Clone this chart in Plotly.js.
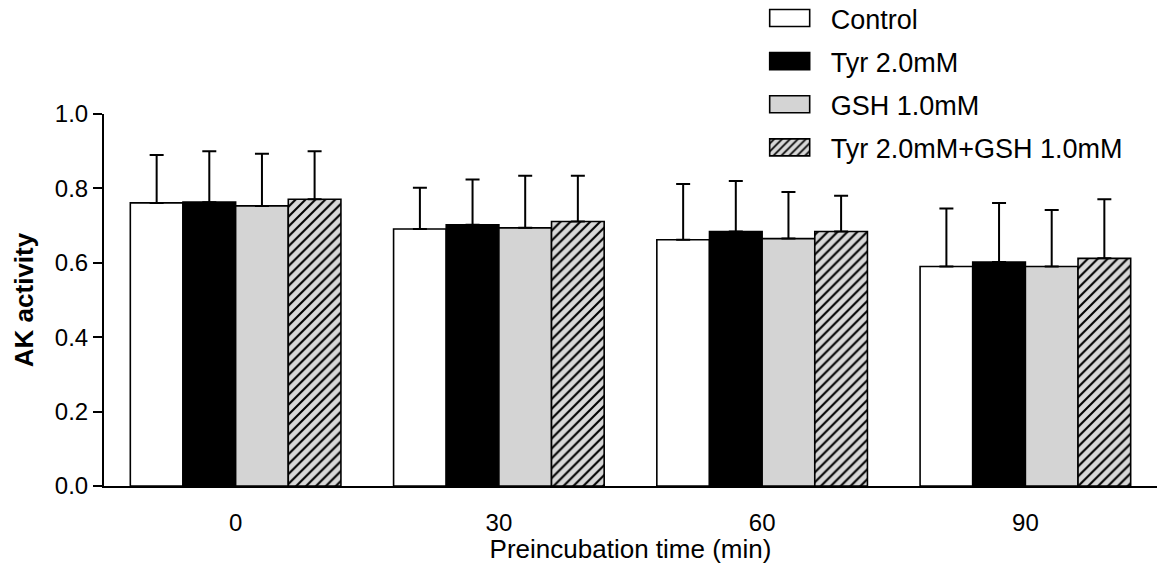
<!DOCTYPE html>
<html>
<head>
<meta charset="utf-8">
<script src="https://cdn.plot.ly/plotly-3.0.1.min.js"></script>
<style>html,body{margin:0;padding:0;background:#fff;}#chart{width:1168px;height:564px;}</style>
</head>
<body>
<div id="chart"></div>
<script>
const categories = ['0', '30', '60', '90'];
const seriesNames = ['Control', 'Tyr 2.0mM', 'GSH 1.0mM', 'Tyr 2.0mM+GSH 1.0mM'];
const controlMean = [0.761, 0.691, 0.662, 0.590];
const controlErr  = [0.129, 0.111, 0.150, 0.156];
const tyrMean = [0.763, 0.702, 0.684, 0.602];
const tyrErr  = [0.137, 0.122, 0.136, 0.159];
const gshMean = [0.753, 0.694, 0.665, 0.590];
const gshErr  = [0.140, 0.140, 0.125, 0.152];
const comboMean = [0.771, 0.711, 0.684, 0.612];
const comboErr  = [0.129, 0.123, 0.096, 0.159];
const yTickVals = [0, 0.2, 0.4, 0.6, 0.8, 1.0];
const yTickText = ['0.0', '0.2', '0.4', '0.6', '0.8', '1.0'];

const FONT = 'Arial, "Liberation Sans", sans-serif';
const means = [controlMean, tyrMean, gshMean, comboMean];
const errs = [controlErr, tyrErr, gshErr, comboErr];
const fills = ['#ffffff', '#000000', '#d4d4d4', '#e2e2e2'];

const traces = seriesNames.map((name, i) => {
  const marker = {color: fills[i], line: {color: '#000', width: 1.6}};
  if (i === 3) {
    marker.pattern = {shape: '/', fgcolor: '#000', bgcolor: '#d8d8d8', size: 7, solidity: 0.3, fillmode: 'replace'};
  }
  return {
    type: 'bar', name: name, x: categories, y: means[i],
    legendgroup: 'g' + i,
    marker: marker,
    error_y: {type: 'data', array: errs[i], arrayminus: errs[i].map(() => 0), symmetric: false,
              color: '#000', thickness: 2, width: 7},
    hoverinfo: 'none'
  };
});

const layout = {
  width: 1168, height: 564,
  margin: {l: 104, r: 11, t: 114, b: 78, autoexpand: false},
  paper_bgcolor: '#fff', plot_bgcolor: '#fff',
  barmode: 'group', bargap: 0.2, bargroupgap: 0,
  font: {family: FONT, color: '#000'},
  showlegend: true,
  legend: {
    x: 0.641, y: 1.3226, xref: 'container', yref: 'paper', xanchor: 'left', yanchor: 'top',
    font: {family: FONT, size: 27, color: '#000'},
    tracegroupgap: 5, itemwidth: 72, bgcolor: 'rgba(0,0,0,0)', traceorder: 'grouped'
  },
  xaxis: {
    type: 'category', range: [-0.5, 3.5],
    showline: true, linecolor: '#000', linewidth: 2,
    ticks: '', showgrid: false, zeroline: false,
    tickfont: {family: FONT, size: 24, color: '#000'},
    ticklabelstandoff: 14,
    title: {text: 'Preincubation time (min)', font: {family: FONT, size: 26, color: '#000'}, standoff: 8}
  },
  yaxis: {
    range: [0, 1.0], showline: true, linecolor: '#000', linewidth: 2,
    ticks: 'outside', ticklen: 9, tickwidth: 2, tickcolor: '#000',
    tickvals: yTickVals, ticktext: yTickText,
    showgrid: false, zeroline: false,
    tickfont: {family: FONT, size: 24, color: '#000'},
    title: {text: '<b>AK activity</b>', font: {family: FONT, size: 26, color: '#000'}, standoff: 14}
  }
};

Plotly.newPlot('chart', traces, layout, {displayModeBar: false, staticPlot: true}).then(() => {
  document.querySelectorAll('#chart .legend .legendpoints path').forEach(p => {
    p.setAttribute('d', 'M20,8.5H-20V-8.5H20Z');
    p.style.strokeWidth = '1.6px';
  });
});
</script>
</body>
</html>
